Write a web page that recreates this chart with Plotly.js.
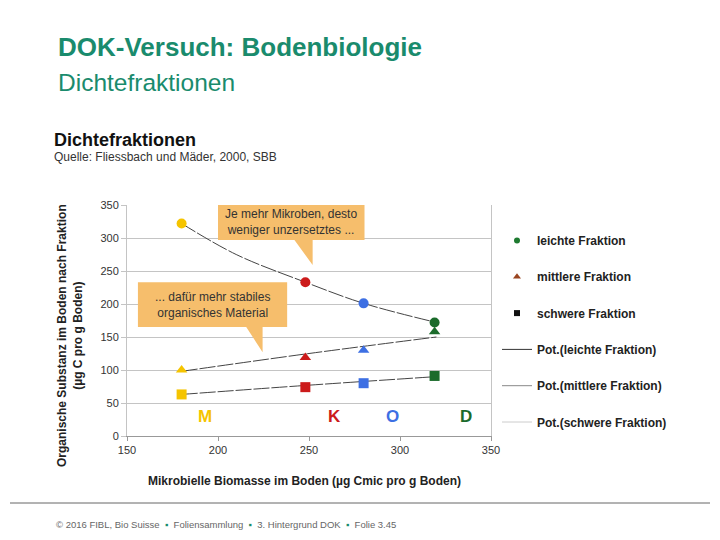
<!DOCTYPE html>
<html>
<head>
<meta charset="utf-8">
<script src="https://cdn.plot.ly/plotly-3.0.1.min.js"></script>
<style>
  html, body { margin: 0; padding: 0; background: #fff; }
  #chart { width: 720px; height: 540px; }
</style>
</head>
<body>
<div id="chart"></div>
<script>
"use strict";

// DATA
const sites = ["M", "K", "O", "D"];
const siteColors = ["#F5C400", "#CC1B1B", "#3D6FE3", "#1B6B2B"];
const biomass = [180, 248, 280, 319];

const leicht = [322, 233, 201, 172];
const mittel = [100, 119, 130, 158];
const schwer = [63, 74, 80, 91];

// trendlines (Pot.)
const trendX_leicht = [180, 210, 248, 280, 320];
const trendY_leicht = [322, 275, 233, 201, 172];
const trendX_mittel = [180, 250, 320];
const trendY_mittel = [98, 125, 150];
const trendX_schwer = [180, 250, 320];
const trendY_schwer = [63, 77, 90];

const labelX = [193, 264, 296, 336];
const labelY = 29;

// LAYOUT HELPERS
const W = 720, H = 540;
const PL = 127, PR = 491, PT = 205, PB = 436;
const px = x => (x - PL) / (PR - PL);
const py = y => (PB - y) / (PB - PT);

const FONT = "Liberation Sans, Arial, sans-serif";
const TEAL = "#1A8B6D";

function markerTrace(y, symbol, size){
	return {
		x: biomass, y: y,
		type: 'scatter', mode: 'markers',
		marker: {color: siteColors, symbol: symbol, size: size},
		showlegend: false, hoverinfo: 'skip', cliponaxis: false
	};
}

function trendTrace(x, y){
	return {
		x: x, y: y,
		type: 'scatter', mode: 'lines',
		line: {color: '#444', width: 1, shape: 'spline', smoothing: 1, dash: '16px,2px'},
		showlegend: false, hoverinfo: 'skip'
	};
}

function legendTrace(name, group, opts){
	return Object.assign({
		x: [null], y: [null],
		type: 'scatter',
		name: name,
		legendgroup: group,
		showlegend: true
	}, opts);
}

const traces = [
	trendTrace(trendX_leicht, trendY_leicht),
	trendTrace(trendX_mittel, trendY_mittel),
	trendTrace(trendX_schwer, trendY_schwer),
	markerTrace(leicht, 'circle', 10),
	markerTrace(mittel, 'triangle-up', 10),
	markerTrace(schwer, 'square', 10),
	legendTrace("leichte Fraktion", "a", {mode: 'markers', marker: {color: '#1E7A30', symbol: 'circle', size: 6}}),
	legendTrace("mittlere Fraktion", "b", {mode: 'markers', marker: {color: '#9A4520', symbol: 'triangle-up', size: 7}}),
	legendTrace("schwere Fraktion", "c", {mode: 'markers', marker: {color: '#111', symbol: 'square', size: 6}}),
	legendTrace("Pot.(leichte Fraktion)", "d", {mode: 'lines', line: {color: '#333', width: 1}}),
	legendTrace("Pot.(mittlere Fraktion)", "e", {mode: 'lines', line: {color: '#888', width: 1}}),
	legendTrace("Pot.(schwere Fraktion)", "f", {mode: 'lines', line: {color: '#ccc', width: 1}})
];

const BOX = "#F6BE6C";

const shapes = [
	// callout 1
	{type: 'path', xref: 'x', yref: 'y', fillcolor: BOX, line: {width: 0}, layer: 'above',
	 path: 'M 200,350 L 280.5,350 L 280.5,297 L 252,297 L 252,259 L 242,297 L 200,297 Z'},
	// callout 2
	{type: 'path', xref: 'x', yref: 'y', fillcolor: BOX, line: {width: 0}, layer: 'above',
	 path: 'M 156,233 L 238,233 L 238,165 L 224.5,165 L 224.5,127 L 215.5,165 L 156,165 Z'},
	// footer rule
	{type: 'line', xref: 'paper', yref: 'paper', x0: px(10), x1: px(710), y0: py(503), y1: py(503),
	 line: {color: '#666', width: 1}}
];

const SEP = "  <span style='color:#1A8B6D'>▪</span>  ";

const annotations = [
	{text: "<b>DOK-Versuch: Bodenbiologie</b>", x: px(56), y: py(47), xanchor: 'left', yanchor: 'middle',
	 font: {family: FONT, size: 26, color: TEAL}},
	{text: "Dichtefraktionen", x: px(56), y: py(83), xanchor: 'left', yanchor: 'middle',
	 font: {family: FONT, size: 24.5, color: TEAL}},
	{text: "<b>Dichtefraktionen</b>", x: px(52), y: py(140), xanchor: 'left', yanchor: 'middle',
	 font: {family: FONT, size: 18, color: '#111'}},
	{text: "Quelle: Fliessbach und Mäder, 2000, SBB", x: px(52), y: py(157), xanchor: 'left', yanchor: 'middle',
	 font: {family: FONT, size: 12, color: '#333'}},
	{text: "Je mehr Mikroben, desto<br>weniger unzersetztes ...", x: 240.2, y: 323.5, xref: 'x', yref: 'y',
	 showarrow: false, align: 'center', font: {family: FONT, size: 12, color: '#333'}},
	{text: "... dafür mehr stabiles<br>organisches Material", x: 197, y: 199, xref: 'x', yref: 'y',
	 showarrow: false, align: 'center', font: {family: FONT, size: 12, color: '#333'}},
	{text: "<b>Organische Substanz im Boden nach Fraktion<br>(µg C pro g Boden)</b>", x: px(70), y: py(336),
	 textangle: -90, xanchor: 'center', yanchor: 'middle', align: 'center',
	 font: {family: FONT, size: 12, color: '#222'}},
	{text: "<b>Mikrobielle Biomasse im Boden (µg Cmic pro g Boden)</b>", x: px(304), y: py(481),
	 xanchor: 'center', yanchor: 'middle', font: {family: FONT, size: 12, color: '#222'}},
	{text: "© 2016 FIBL, Bio Suisse" + SEP + "Foliensammlung" + SEP + "3. Hintergrund DOK" + SEP + "Folie 3.45",
	 x: px(54), y: py(524), xanchor: 'left', yanchor: 'middle', font: {family: FONT, size: 9.5, color: '#666'}}
];

sites.forEach((s, i) => {
	annotations.push({text: "<b>" + s + "</b>", x: labelX[i], y: labelY, xref: 'x', yref: 'y',
		showarrow: false, font: {family: FONT, size: 17, color: siteColors[i]}});
});

annotations.forEach(a => {
	if(!a.xref){ a.xref = 'paper'; a.yref = 'paper'; a.showarrow = false; }
});

const layout = {
	width: W, height: H,
	margin: {l: PL, r: W - PR, t: PT, b: H - PB, pad: 0},
	paper_bgcolor: '#fff', plot_bgcolor: '#fff',
	font: {family: FONT, size: 11, color: '#333'},
	showlegend: true,
	legend: {x: px(497), y: py(226), xanchor: 'left', yanchor: 'top',
		tracegroupgap: 17.3, font: {family: FONT, size: 12, color: '#222', weight: 'bold'},
		bgcolor: 'rgba(0,0,0,0)'},
	xaxis: {range: [150, 350], tickvals: [150, 200, 250, 300, 350], showgrid: false, zeroline: false,
		showline: true, linecolor: '#999', linewidth: 1, ticks: 'outside', ticklen: 4, tickcolor: '#999',
		tickfont: {family: FONT, size: 11, color: '#333'}, fixedrange: true},
	yaxis: {range: [0, 350], dtick: 50, showgrid: true, gridcolor: '#c4c4c4', zeroline: false,
		showline: true, mirror: true, linecolor: '#c4c4c4', linewidth: 1, ticks: 'outside', ticklen: 5,
		tickcolor: '#c4c4c4', tickfont: {family: FONT, size: 11, color: '#333'}, fixedrange: true},
	shapes: shapes,
	annotations: annotations
};

Plotly.newPlot('chart', traces, layout, {displayModeBar: false, staticPlot: true});
</script>
</body>
</html>
